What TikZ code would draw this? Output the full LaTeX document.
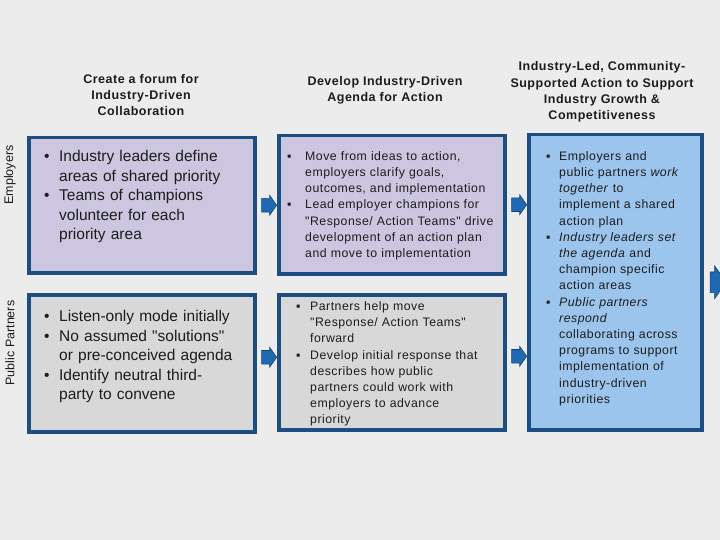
\documentclass[tikz,border=0pt]{standalone}
\usepackage{fontspec}
\setmainfont{Liberation Sans}[Ligatures=TeXOff]
\newfontfamily\spacedfont[LetterSpace=4]{Liberation Sans}
\usetikzlibrary{calc,positioning,shapes.arrows}
\definecolor{bgGray}{RGB}{236,236,236}
\definecolor{boxBorder}{RGB}{28,78,130}
\definecolor{boxLilac}{RGB}{204,198,224}
\definecolor{boxGray}{RGB}{216,216,216}
\definecolor{boxSky}{RGB}{156,197,238}
\definecolor{arrowBlue}{RGB}{32,104,178}
\definecolor{textDark}{RGB}{28,28,28}
\newlength\bulw
\newcommand{\bitem}[2][\textbullet]{\par\noindent\hangindent=\bulw\hangafter=1\makebox[\bulw][l]{#1}\strut#2}
\tikzset{
  stagebox/.style={rectangle, draw=boxBorder, line width=3.5pt, anchor=north west,
                   minimum width=226pt, inner sep=0pt},
  bigtext/.style ={anchor=north west, inner sep=0pt, text width=215pt, text=textDark,
                   font=\fontsize{15.5}{19.5}\selectfont},
  smalltext/.style={anchor=north west, inner sep=0pt, text width=215pt, text=textDark,
                   font=\spacedfont\fontsize{12.3}{16.2}\selectfont},
  stagetitle/.style={align=center, text=textDark, inner sep=0pt,
                   font=\spacedfont\bfseries\fontsize{12.5}{16.4}\selectfont},
  rowlabel/.style={rotate=90, text=textDark, font=\fontsize{12.5}{14}\selectfont},
  flowarrow/.style={single arrow, draw=arrowBlue!65!black, fill=arrowBlue, line width=0.6pt,
                    minimum height=15pt, inner xsep=0pt, inner ysep=6.5pt,
                    single arrow head extend=3pt, single arrow tip angle=110},
}
\begin{document}
\begin{tikzpicture}[x=1pt, y=-1pt]
  \useasboundingbox (0,0) rectangle (720,540);
  \fill[bgGray] (0,0) rectangle (720,540);
  % stage titles
  \node[stagetitle] (t1) at (141,95)  {Create a forum for\\Industry-Driven\\Collaboration};
  \node[stagetitle] (t2) at (385,90)  {Develop Industry-Driven\\Agenda for Action};
  \node[stagetitle] (t3) at (602,92)  {Industry-Led, Community-\\Supported Action to Support\\Industry Growth \&\\Competitiveness};
  % row labels
  \node[rowlabel] (lemp) at (10,175) {Employers};
  \node[rowlabel] (lpub) at (10,343) {Public Partners};
  % boxes
  \node[stagebox, fill=boxLilac, minimum height=135pt] (emp1) at (27,136) {};
  \node[stagebox, fill=boxGray,  minimum height=137pt] (pub1) at (27,293) {};
  \node[stagebox, fill=boxLilac, minimum height=138pt] (emp2) at (277,134) {};
  \node[stagebox, fill=boxGray,  minimum height=135pt] (pub2) at (277,293) {};
  \node[stagebox, fill=boxSky, minimum width=173pt, minimum height=295pt] (act) at (527,133) {};
  % box texts
  \node[bigtext] (xemp1) at (44,142) {\setlength\bulw{15pt}%
    \bitem{Industry leaders define\newline areas of shared priority}
    \bitem{Teams of champions\newline volunteer for each\newline priority area}\par};
  \node[bigtext] (xpub1) at (44,302) {\setlength\bulw{15pt}%
    \bitem{Listen-only mode initially}
    \bitem{No assumed "solutions"\newline or pre-conceived agenda}
    \bitem{Identify neutral third-\newline party to convene}\par};
  \node[smalltext] (xemp2) at (287,144) {\setlength\bulw{18pt}%
    \bitem[▪]{Move from ideas to action,\newline employers clarify goals,\newline outcomes, and implementation}
    \bitem[▪]{Lead employer champions for\newline "Response/ Action Teams" drive\newline development of an action plan\newline and move to implementation}\par};
  \node[smalltext] (xpub2) at (296,294) {\setlength\bulw{14pt}%
    \bitem[▪]{Partners help move\newline "Response/ Action Teams"\newline forward}
    \bitem[▪]{Develop initial response that\newline describes how public\newline partners could work with\newline employers to advance\newline priority}\par};
  \node[smalltext] (xact) at (546,144) {\setlength\bulw{13pt}%
    \bitem[▪]{Employers and\newline public partners \textit{work}\newline \textit{together} to\newline implement a shared\newline action plan}
    \bitem[▪]{\textit{Industry leaders set}\newline \textit{the agenda} and\newline champion specific\newline action areas}
    \bitem[▪]{\textit{Public partners}\newline \textit{respond}\newline collaborating across\newline programs to support\newline implementation of\newline industry-driven\newline priorities}\par};
  % flow arrows
  \node[flowarrow] (a1) at ($(emp1.east)!0.5!(emp2.west |- emp1.east)$) {};
  \node[flowarrow] (a2) at ($(pub1.east)!0.5!(pub2.west |- pub1.east) + (0,-6)$) {};
  \node[flowarrow] (a3) at ($(emp2.east)!0.5!(act.west |- emp2.east)$) {};
  \node[flowarrow] (a4) at ($(pub2.east)!0.5!(act.west |- pub2.east) + (0,-6)$) {};
  \node[flowarrow, minimum height=16pt, inner ysep=10pt, single arrow head extend=6pt] (a5)
    at ($(act.east) + (11,0)$) {};
\end{tikzpicture}
\end{document}
